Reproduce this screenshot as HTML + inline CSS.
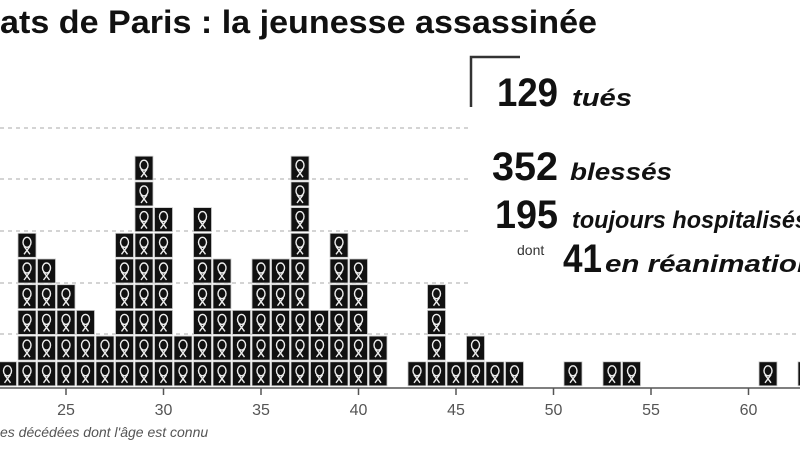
<!DOCTYPE html>
<html><head><meta charset="utf-8"><style>
html,body{margin:0;padding:0;background:#fff;width:800px;height:450px;overflow:hidden}
svg{display:block}
</style></head><body>
<svg id="s" width="800" height="450" viewBox="0 0 800 450" xmlns="http://www.w3.org/2000/svg">
<g stroke="#bbb" stroke-width="1.3" stroke-dasharray="4,4">
<line x1="0" y1="128" x2="470" y2="128"/>
<line x1="0" y1="179" x2="472" y2="179"/>
<line x1="0" y1="231" x2="472" y2="231"/>
<line x1="0" y1="283" x2="470" y2="283"/>
<line x1="0" y1="334" x2="800" y2="334"/>
</g>
<text x="0" y="33" font-family="Liberation Sans, sans-serif" font-weight="bold" font-size="32" fill="#111" textLength="597" lengthAdjust="spacingAndGlyphs">ats de Paris : la jeunesse assassinée</text>
<path d="M471 107 V57 H520" fill="none" stroke="#333" stroke-width="2.5"/>
<g font-family="Liberation Sans, sans-serif" fill="#111">
<text x="497" y="106" font-weight="bold" font-size="40" textLength="61" lengthAdjust="spacingAndGlyphs">129</text>
<text x="572" y="106" font-style="italic" font-weight="bold" font-size="24" textLength="60" lengthAdjust="spacingAndGlyphs">tués</text>
<text x="492" y="180" font-weight="bold" font-size="40" textLength="66" lengthAdjust="spacingAndGlyphs">352</text>
<text x="570" y="180" font-style="italic" font-weight="bold" font-size="24" textLength="102" lengthAdjust="spacingAndGlyphs">blessés</text>
<text x="495" y="228" font-weight="bold" font-size="40" textLength="63" lengthAdjust="spacingAndGlyphs">195</text>
<text x="572" y="228" font-style="italic" font-weight="bold" font-size="24" textLength="236" lengthAdjust="spacingAndGlyphs">toujours hospitalisés</text>
<text x="517" y="255" font-size="14" fill="#333">dont</text>
<text x="563" y="272" font-weight="bold" font-size="40" textLength="39" lengthAdjust="spacingAndGlyphs">41</text>
<text x="605" y="272" font-style="italic" font-weight="bold" font-size="24" textLength="210" lengthAdjust="spacingAndGlyphs">en réanimation</text>
</g>
<text x="0" y="437" font-family="Liberation Sans, sans-serif" font-style="italic" font-size="14" fill="#555">es décédées dont l'âge est connu</text>
<g id="cells"></g>
<line x1="0" y1="388" x2="800" y2="388" stroke="#555" stroke-width="1.5"/>
<g id="ticks" font-family="Liberation Sans, sans-serif" font-size="16" fill="#555" text-anchor="middle"></g>
</svg>
<script>
var counts={22:1,23:6,24:5,25:4,26:3,27:2,28:6,29:9,30:7,31:2,32:7,33:5,34:3,35:5,36:5,37:9,38:3,39:6,40:5,41:2,43:1,44:4,45:1,46:2,47:1,48:1,51:1,53:1,54:1,61:1,63:1};
var g=document.getElementById("cells"),h="";
for(var a in counts){var cx=66+(a-25)*19.5;for(var k=1;k<=counts[a];k++){var y=386-k*25.7+1.5;
h+='<rect x="'+(cx-9)+'" y="'+y+'" width="18" height="24" fill="#111" stroke="#ccc" stroke-width="0.8"/>';
h+='<ellipse cx="'+cx+'" cy="'+(y+9)+'" rx="4" ry="5" fill="none" stroke="#eee" stroke-width="1.4"/>';
h+='<path d="M'+(cx-3)+' '+(y+13)+' L'+(cx+3)+' '+(y+21)+' M'+(cx+3)+' '+(y+13)+' L'+(cx-3)+' '+(y+21)+'" stroke="#eee" stroke-width="1.4"/>';}}
g.innerHTML=h;
var t="";for(var v=25;v<=60;v+=5){var x=66+(v-25)*19.5;t+='<line x1="'+x+'" y1="388" x2="'+x+'" y2="395" stroke="#555" stroke-width="1.5"/><text x="'+x+'" y="415">'+v+'</text>';}
document.getElementById("ticks").innerHTML=t;
</script>
</body></html>
